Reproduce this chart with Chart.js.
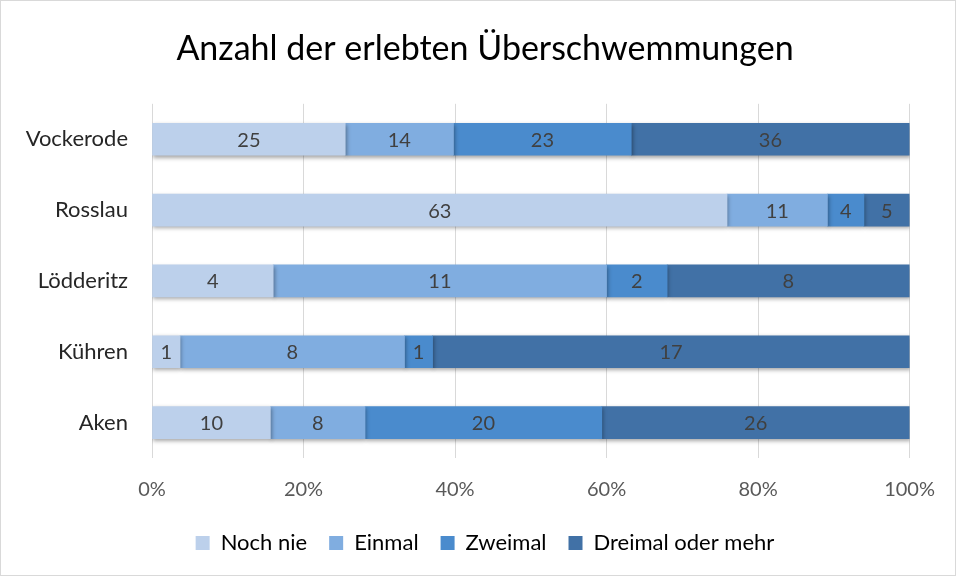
<!DOCTYPE html>
<html lang="de">
<head>
<meta charset="UTF-8">
<title>Anzahl der erlebten Überschwemmungen</title>
<script src="https://cdn.jsdelivr.net/npm/chart.js"></script>
<style>
  html, body { margin: 0; padding: 0; background: #fff; }
  .wrap { width: 954px; height: 574px; border: 1px solid #d9d9d9; }
</style>
</head>
<body>
<div class="wrap"><canvas id="chart" width="954" height="574"></canvas></div>
<script>
const orte = ['Vockerode', 'Rosslau', 'Lödderitz', 'Kühren', 'Aken'];
const nochNie = [25, 63, 4, 1, 10];
const einmal = [14, 11, 11, 8, 8];
const zweimal = [23, 4, 2, 1, 20];
const dreimal = [36, 5, 8, 17, 26];
const xTicks = [0, 20, 40, 60, 80, 100];

const totals = orte.map((_, i) => nochNie[i] + einmal[i] + zweimal[i] + dreimal[i]);
const pct = arr => arr.map((v, i) => v / totals[i] * 100);

const series = [
  { label: 'Noch nie', counts: nochNie, color: '#bcd0eb' },
  { label: 'Einmal', counts: einmal, color: '#80ade0' },
  { label: 'Zweimal', counts: zweimal, color: '#4a8bcd' },
  { label: 'Dreimal oder mehr', counts: dreimal, color: '#4171a6' }
];

// leichter Schatten unter den Balken
const barShadow = {
  id: 'barShadow',
  beforeDatasetsDraw(chart) {
    const ctx = chart.ctx;
    ctx.save();
    ctx.shadowColor = 'rgba(0,0,0,0.35)';
    ctx.shadowBlur = 4;
    ctx.shadowOffsetX = 1;
    ctx.shadowOffsetY = 2;
  },
  afterDatasetsDraw(chart) {
    chart.ctx.restore();
  }
};

// counts als Beschriftung in die Balken schreiben
const barLabels = {
  id: 'barLabels',
  afterDatasetsDraw(chart) {
    const ctx = chart.ctx;
    ctx.save();
    ctx.font = '20px Lato';
    ctx.fillStyle = '#404040';
    ctx.textAlign = 'center';
    ctx.textBaseline = 'middle';
    chart.data.datasets.forEach((ds, di) => {
      chart.getDatasetMeta(di).data.forEach((bar, i) => {
        const left = Math.min(bar.x, bar.base);
        const right = Math.max(bar.x, bar.base);
        ctx.fillText(ds.counts[i], (left + right) / 2, bar.y + 1);
      });
    });
    ctx.restore();
  }
};

new Chart(document.getElementById('chart'), {
  type: 'bar',
  data: {
    labels: orte,
    datasets: series.map(s => ({
      label: s.label,
      data: pct(s.counts),
      counts: s.counts,
      backgroundColor: s.color,
      barThickness: 32
    }))
  },
  options: {
    indexAxis: 'y',
    responsive: false,
    animation: false,
    layout: { padding: { left: 14, right: 0, top: 8, bottom: 11 } },
    plugins: {
      title: {
        display: true,
        text: 'Anzahl der erlebten Überschwemmungen',
        color: '#000',
        font: { family: 'Lato', size: 34, weight: 'normal' },
        padding: { top: 20, bottom: 34 }
      },
      legend: {
        position: 'bottom',
        labels: {
          color: '#000',
          font: { family: 'Lato', size: 22 },
          boxWidth: 14,
          boxHeight: 14,
          padding: 22
        }
      },
      tooltip: { enabled: false }
    },
    scales: {
      x: {
        stacked: true,
        min: 0,
        max: 100,
        afterBuildTicks: axis => { axis.ticks = xTicks.map(v => ({ value: v })); },
        afterFit: axis => { axis.height = 52; },
        ticks: {
          color: '#595959',
          font: { family: 'Lato', size: 20 },
          padding: 20,
          callback: v => v + '%'
        },
        grid: { color: '#d9d9d9', drawTicks: false },
        border: { display: false }
      },
      y: {
        stacked: true,
        afterFit: axis => { axis.width = 137; },
        ticks: {
          color: '#262626',
          font: { family: 'Lato', size: 22 },
          padding: 16
        },
        grid: { display: false },
        border: { display: false }
      },
      // leere Achse rechts, nur als Abstand zum Rand
      rechts: {
        axis: 'y',
        position: 'right',
        ticks: { display: false },
        grid: { display: false },
        border: { display: false },
        afterFit: axis => { axis.width = 36; }
      }
    }
  },
  plugins: [barShadow, barLabels]
});
</script>
</body>
</html>
